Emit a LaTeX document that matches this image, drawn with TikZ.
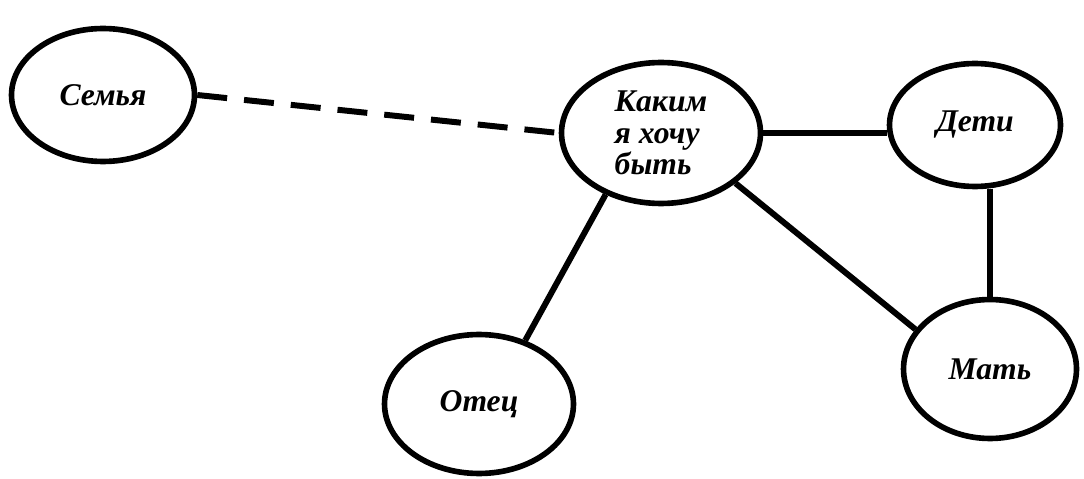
\documentclass[tikz,border=0pt]{standalone}
\usepackage{fontspec}
\setmainfont{Liberation Serif}
\usepackage{tikz}
\usetikzlibrary{shapes.geometric, positioning, calc}
\tikzstyle{bubble} = [ellipse, draw=black, line width=3.2pt, fill=white, text centered, font=\fontsize{18}{18}\selectfont\bfseries\itshape]
\tikzstyle{link} = [line width=3.4pt]

\begin{document}
\begin{tikzpicture}[x=0.02cm, y=-0.02cm]
    \useasboundingbox (0,0) rectangle (1084,479);
    % Nodes
    \node[bubble, minimum width=3.66cm, minimum height=2.66cm] (semya) at (103,95) {Семья};
    \node[bubble, minimum width=3.98cm, minimum height=2.82cm, align=left] (kakim) at (661,133) {Каким\\я хочу\\быть};
    \node[bubble, minimum width=3.42cm, minimum height=2.46cm] (deti) at (975,125) {Дети};
    \node[bubble, minimum width=3.78cm, minimum height=2.78cm] (otec) at (479,404) {Отец};
    \node[bubble, minimum width=3.46cm, minimum height=2.78cm] (mat) at (990,369) {Мать};

    % Links
    \draw[link, dash pattern=on 0.6cm off 0.34cm] (semya.east) -- (kakim.west);
    \draw[link] (kakim.east) -- (kakim.east -| deti.west);
    \draw[link] (mat.north) -- (mat.north |- deti.south);
    \draw[link] (kakim.326) -- (mat.152);
    \draw[link] (kakim.228) -- (otec.54);
\end{tikzpicture}
\end{document}
